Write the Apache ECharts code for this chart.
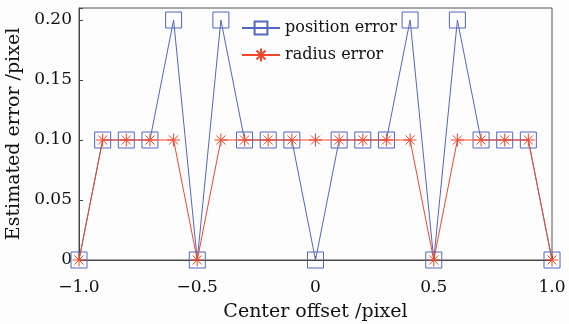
<!DOCTYPE html>
<html>
<head>
<meta charset="utf-8">
<script src="https://cdn.jsdelivr.net/npm/echarts@6/dist/echarts.min.js"></script>
<style>
  html, body { margin: 0; padding: 0; background: #fdfdfd; }
  #chart { width: 569px; height: 324px; }
</style>
</head>
<body>
<div id="chart"></div>
<script>
// center offsets (pixel)
const offsets = [-1.0, -0.9, -0.8, -0.7, -0.6, -0.5, -0.4, -0.3, -0.2, -0.1, 0,
  0.1, 0.2, 0.3, 0.4, 0.5, 0.6, 0.7, 0.8, 0.9, 1.0];
const positionError = [0, 0.1, 0.1, 0.1, 0.2, 0, 0.2, 0.1, 0.1, 0.1, 0,
  0.1, 0.1, 0.1, 0.2, 0, 0.2, 0.1, 0.1, 0.1, 0];
const radiusError = [0, 0.1, 0.1, 0.1, 0.1, 0, 0.1, 0.1, 0.1, 0.1, 0.1,
  0.1, 0.1, 0.1, 0.1, 0, 0.1, 0.1, 0.1, 0.1, 0];
const xTickLabels = { "-1": "\u22121.0", "-0.5": "\u22120.5", "0": "0", "0.5": "0.5", "1": "1.0" };
const yTickLabels = { "0": "0", "0.05": "0.05", "0.1": "0.10", "0.15": "0.15", "0.2": "0.20" };

const FONT = "DejaVu Serif";
const BLUE = "#5166c2";
const RED = "#f2472b";
const asterisk = "path://M0,-10L0,10M-10,0L10,0M-7,-7L7,7M-7,7L7,-7";

const chart = echarts.init(document.getElementById("chart"));

const pairs = (ys) => offsets.map((x, i) => [x, ys[i]]);
const fmtKey = (v) => String(Math.round(v * 100) / 100);

const option = {
  animation: false,
  backgroundColor: "#fdfdfd",
  grid: {
    left: 79, right: 17, top: 8, bottom: 64,
    outerBoundsMode: "none",
    show: true, borderColor: "#555", borderWidth: 1
  },
  legend: {
    left: 236, top: 15,
    orient: "vertical",
    itemGap: 11,
    itemWidth: 38, itemHeight: 16,
    textStyle: { fontFamily: FONT, fontSize: 16, color: "#111" },
    data: ["position error", "radius error"]
  },
  xAxis: {
    type: "value",
    min: -1, max: 1, interval: 0.5,
    name: "Center offset /pixel",
    nameLocation: "middle",
    nameGap: 43,
    nameTextStyle: { fontFamily: FONT, fontSize: 19, color: "#111" },
    axisLine: { onZero: false, lineStyle: { color: "#444" } },
    axisTick: { inside: true, length: 4, lineStyle: { color: "#444" } },
    splitLine: { show: false },
    axisLabel: {
      fontFamily: FONT, fontSize: 17, color: "#111", margin: 19,
      formatter: (v) => xTickLabels[fmtKey(v)] ?? ""
    }
  },
  yAxis: {
    type: "value",
    min: 0, max: 0.21, interval: 0.05,
    name: "Estimated error /pixel",
    nameLocation: "middle",
    nameGap: 48,
    nameTextStyle: { fontFamily: FONT, fontSize: 19, color: "#111" },
    axisLine: { show: true, onZero: false, lineStyle: { color: "#444" } },
    axisTick: { inside: true, length: 4, lineStyle: { color: "#444" } },
    splitLine: { show: false },
    axisLabel: {
      fontFamily: FONT, fontSize: 17, color: "#111", margin: 7,
      formatter: (v) => yTickLabels[fmtKey(v)] ?? ""
    }
  },
  series: [
    {
      name: "position error",
      type: "line",
      data: pairs(positionError),
      symbol: "rect",
      symbolSize: 16,
      lineStyle: { color: BLUE, width: 1 },
      itemStyle: { color: "rgba(0,0,0,0)", borderColor: BLUE, borderWidth: 1 },
      z: 2
    },
    {
      name: "radius error",
      type: "line",
      data: pairs(radiusError),
      symbol: asterisk,
      symbolSize: 13,
      symbolKeepAspect: true,
      lineStyle: { color: RED, width: 1 },
      itemStyle: { color: "rgba(0,0,0,0)", borderColor: RED, borderWidth: 1 },
      z: 3
    }
  ]
};

chart.setOption(option);
</script>
</body>
</html>
